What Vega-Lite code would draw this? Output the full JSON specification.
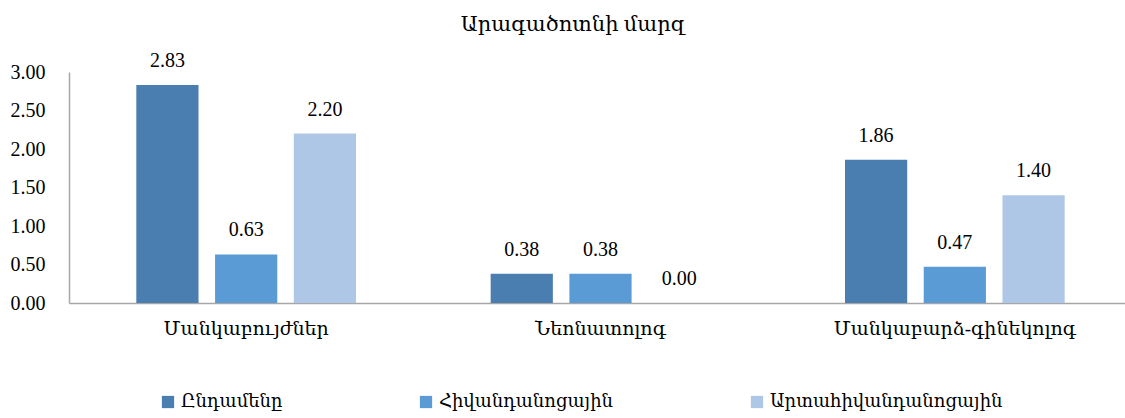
{
  "$schema": "https://vega.github.io/schema/vega-lite/v6.json",
  "autosize": {"type": "none"},
  "padding": {"left": 69, "top": 72, "right": 0, "bottom": 115},
  "width": 1056,
  "height": 231,
  "title": {
    "text": "Արագածոտնի մարզ",
    "font": "Liberation Serif, DejaVu Serif",
    "fontSize": 21,
    "fontWeight": "normal",
    "color": "#000000",
    "anchor": "middle",
    "dx": -24,
    "offset": 16,
    "limit": 0
  },
  "data": {
    "values": [
      {"category": "Մանկաբույժներ", "series": "Ընդամենը", "value": 2.83},
      {"category": "Մանկաբույժներ", "series": "Հիվանդանոցային", "value": 0.63},
      {"category": "Մանկաբույժներ", "series": "Արտահիվանդանոցային", "value": 2.20},
      {"category": "Նեոնատոլոգ", "series": "Ընդամենը", "value": 0.38},
      {"category": "Նեոնատոլոգ", "series": "Հիվանդանոցային", "value": 0.38},
      {"category": "Նեոնատոլոգ", "series": "Արտահիվանդանոցային", "value": 0.00},
      {"category": "Մանկաբարձ-գինեկոլոգ", "series": "Ընդամենը", "value": 1.86},
      {"category": "Մանկաբարձ-գինեկոլոգ", "series": "Հիվանդանոցային", "value": 0.47},
      {"category": "Մանկաբարձ-գինեկոլոգ", "series": "Արտահիվանդանոցային", "value": 1.40}
    ]
  },
  "encoding": {
    "x": {
      "field": "category",
      "type": "nominal",
      "sort": ["Մանկաբույժներ", "Նեոնատոլոգ", "Մանկաբարձ-գինեկոլոգ"],
      "scale": {"range": [0, 1063], "paddingInner": 0.38, "paddingOuter": 0.19},
      "axis": {
        "title": null,
        "labelAngle": 0,
        "labelLimit": 0,
        "labelFont": "Liberation Serif, DejaVu Serif",
        "labelFontSize": 19,
        "labelColor": "#000000",
        "labelPadding": 16,
        "ticks": false,
        "domainColor": "#a6a6a6",
        "domainWidth": 1.5,
        "grid": false
      }
    },
    "xOffset": {
      "field": "series",
      "type": "nominal",
      "sort": ["Ընդամենը", "Հիվանդանոցային", "Արտահիվանդանոցային"],
      "scale": {"paddingInner": 0.21, "paddingOuter": 0}
    },
    "y": {
      "field": "value",
      "type": "quantitative",
      "scale": {"domain": [0, 3], "nice": false},
      "axis": {
        "title": null,
        "values": [0, 0.5, 1, 1.5, 2, 2.5, 3],
        "format": ".2f",
        "labelFont": "Liberation Serif, DejaVu Serif",
        "labelFontSize": 20,
        "labelColor": "#000000",
        "labelPadding": 24,
        "ticks": false,
        "grid": false,
        "domainColor": "#a6a6a6",
        "domainWidth": 1.5
      }
    }
  },
  "layer": [
    {
      "mark": {"type": "bar"},
      "encoding": {
        "color": {
          "field": "series",
          "type": "nominal",
          "sort": ["Ընդամենը", "Հիվանդանոցային", "Արտահիվանդանոցային"],
          "scale": {
            "domain": ["Ընդամենը", "Հիվանդանոցային", "Արտահիվանդանոցային"],
            "range": ["#4a7eb0", "#5b9bd5", "#aec7e7"]
          },
          "legend": {
            "title": null,
            "orient": "none",
            "direction": "horizontal",
            "legendX": 90,
            "legendY": 321,
            "symbolType": "square",
            "symbolSize": 150,
            "symbolStrokeWidth": 0,
            "labelFont": "Liberation Serif, DejaVu Serif",
            "labelFontSize": 18,
            "labelColor": "#000000",
            "labelLimit": 0,
            "labelOffset": 4,
            "columnPadding": 134
          }
        }
      }
    },
    {
      "mark": {
        "type": "text",
        "baseline": "bottom",
        "dy": -14,
        "font": "Liberation Serif, DejaVu Serif",
        "fontSize": 20,
        "color": "#000000"
      },
      "encoding": {
        "text": {"field": "value", "type": "quantitative", "format": ".2f"}
      }
    }
  ],
  "config": {
    "view": {"stroke": null},
    "background": "#ffffff"
  }
}
